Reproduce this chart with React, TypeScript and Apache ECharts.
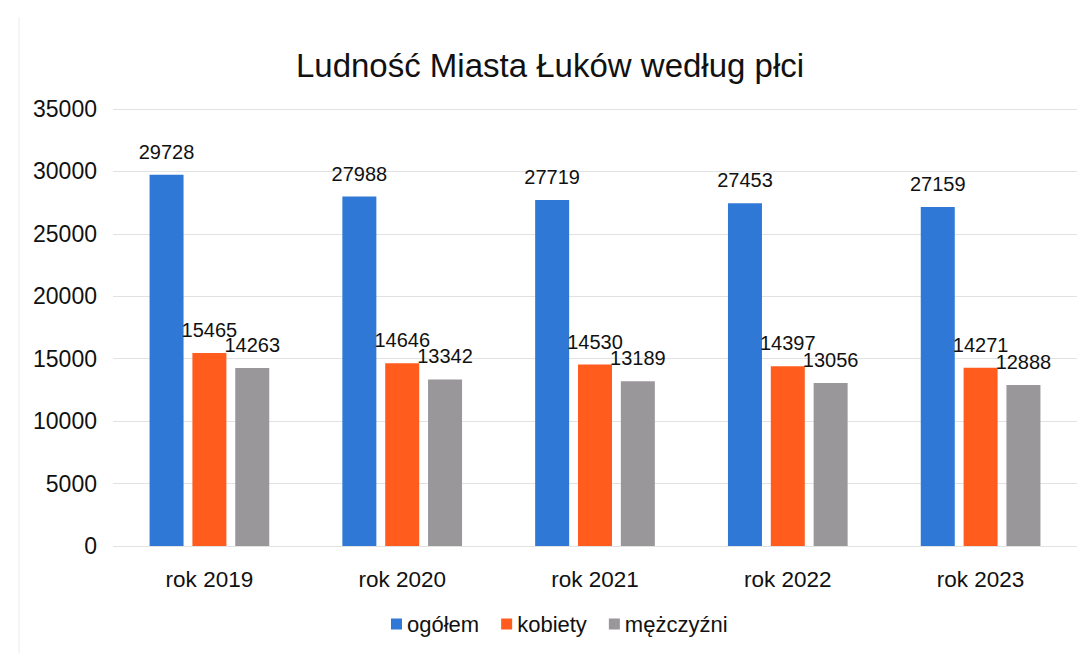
import React, { useEffect, useRef } from "react";
import * as echarts from "echarts";

const categories = ["rok 2019", "rok 2020", "rok 2021", "rok 2022", "rok 2023"];
const ogolem = [29728, 27988, 27719, 27453, 27159];
const kobiety = [15465, 14646, 14530, 14397, 14271];
const mezczyzni = [14263, 13342, 13189, 13056, 12888];
const seriesNames = ["ogółem", "kobiety", "mężczyźni"];
const colors = ["#2f78d6", "#ff5c1e", "#9a979a"];

export default function App() {
  const ref = useRef<HTMLDivElement>(null);
  useEffect(() => {
    document.body.style.margin = "0";
    const chart = echarts.init(ref.current!, null, { renderer: "svg" });
    const font = "'Liberation Sans', Arial, sans-serif";
    const label = {
      show: true,
      position: "top" as const,
      distance: 13,
      color: "#111",
      fontSize: 20,
      fontFamily: font,
    };
    const data = [ogolem, kobiety, mezczyzni];
    chart.setOption({
      animation: false,
      backgroundColor: "#fff",
      title: {
        text: "Ludność Miasta Łuków według płci",
        left: 545,
        textAlign: "center",
        top: 44,
        textStyle: { fontSize: 33, fontWeight: "normal", color: "#111", fontFamily: font },
      },
      legend: {
        bottom: 13,
        left: 386,
        itemWidth: 11,
        itemHeight: 11,
        itemGap: 22,
        icon: "rect",
        textStyle: { fontSize: 22, color: "#111", fontFamily: font },
        data: seriesNames,
      },
      grid: { left: 113, right: 15, top: 109, bottom: 107, containLabel: false },
      xAxis: {
        type: "category",
        data: categories,
        axisLine: { show: false },
        axisTick: { show: false },
        axisLabel: { fontSize: 22.5, color: "#111", margin: 22, fontFamily: font },
      },
      yAxis: {
        type: "value",
        min: 0,
        max: 35000,
        interval: 5000,
        axisLine: { show: false },
        axisTick: { show: false },
        axisLabel: {
          fontSize: 23,
          color: "#111",
          margin: 16,
          fontFamily: font,
          formatter: (v: number) => String(v),
        },
        splitLine: { lineStyle: { color: "#e2e2e2", width: 1 } },
      },
      series: seriesNames.map((name, i) => ({
        name,
        type: "bar",
        data: data[i],
        barWidth: 34,
        barGap: "26%",
        itemStyle: { color: colors[i] },
        label,
      })),
      graphic: [
        {
          type: "line",
          shape: { x1: 19, y1: 17, x2: 19, y2: 653 },
          style: { stroke: "#ececec", lineWidth: 1 },
        },
      ],
    });
    return () => chart.dispose();
  }, []);
  return <div ref={ref} style={{ width: 1092, height: 653 }} />;
}
